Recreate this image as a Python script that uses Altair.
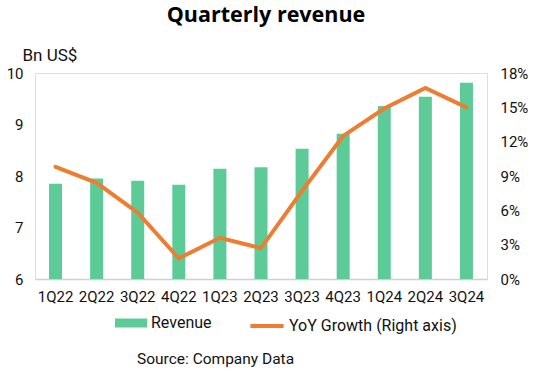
import altair as alt
import pandas as pd

quarters = ["1Q22", "2Q22", "3Q22", "4Q22", "1Q23", "2Q23", "3Q23", "4Q23", "1Q24", "2Q24", "3Q24"]
revenue = [7.85, 7.95, 7.91, 7.83, 8.14, 8.17, 8.53, 8.82, 9.36, 9.54, 9.81]
yoy_growth = [9.8, 8.4, 5.8, 1.8, 3.6, 2.7, 7.7, 12.5, 14.9, 16.7, 15.0]

df = pd.DataFrame({
    "quarter": quarters,
    "revenue": revenue,
    "yoy": [v / 100 for v in yoy_growth],
    "s_rev": "Revenue",
    "s_yoy": "YoY Growth (Right axis)",
})

FONT = "Roboto"
GREEN = "#5CCB97"
ORANGE = "#ED7D31"

x = alt.X("quarter:N", sort=quarters, title=None,
          scale=alt.Scale(paddingInner=0.68, paddingOuter=0.34),
          axis=alt.Axis(labelAngle=0, ticks=False, domainColor="#d0d0d0", domainWidth=1.5,
                        labelPadding=10, labelFontSize=15, labelColor="#111", labelFont=FONT))

bars = alt.Chart(df).mark_bar(size=13, color=GREEN, clip=True).encode(
    x=x,
    y=alt.Y("revenue:Q", scale=alt.Scale(domain=[6, 10], nice=False),
            axis=alt.Axis(values=[6, 7, 8, 9, 10], ticks=False, domain=False, grid=False,
                          labelPadding=12, labelFontSize=15, labelColor="#111", labelFont=FONT,
                          title="Bn US$", titleAngle=0, titleAlign="left", titleBaseline="middle",
                          titleX=-13, titleY=-18, titleFontSize=17, titleFontWeight="normal",
                          titleColor="#111", titleFont=FONT)),
    fill=alt.Fill("s_rev:N", scale=alt.Scale(domain=["Revenue"], range=[GREEN]),
                  legend=alt.Legend(orient="none", legendX=80, legendY=234, title=None,
                                    symbolType="M-1,-0.28H1V0.28H-1Z", symbolSize=1024,
                                    symbolStrokeWidth=0, labelFontSize=16, labelFont=FONT,
                                    labelColor="#111", labelOffset=4, labelLimit=300)),
)

line = alt.Chart(df).mark_line(color=ORANGE, strokeWidth=4, strokeCap="round").encode(
    x=x,
    y=alt.Y("yoy:Q", scale=alt.Scale(domain=[0, 0.18], nice=False),
            axis=alt.Axis(orient="right", values=[0, 0.03, 0.06, 0.09, 0.12, 0.15, 0.18],
                          format=".0%", ticks=False, domain=False, grid=False,
                          labelPadding=13, labelFontSize=15, labelColor="#111", labelFont=FONT,
                          title=None)),
    stroke=alt.Stroke("s_yoy:N", scale=alt.Scale(domain=["YoY Growth (Right axis)"], range=[ORANGE]),
                      legend=alt.Legend(orient="none", legendX=213, legendY=234, title=None,
                                        symbolType="stroke", symbolSize=1100, symbolStrokeWidth=4,
                                        labelFontSize=16, labelFont=FONT, labelColor="#111",
                                        labelOffset=3, labelLimit=300)),
)

source = alt.Chart(pd.DataFrame({"t": ["Source: Company Data"]})).mark_text(
    font=FONT, fontSize=15.5, color="#111", align="left", baseline="middle"
).encode(text="t:N", x=alt.value(102), y=alt.value(286))

title = alt.Chart(pd.DataFrame({"t": ["Quarterly revenue"]})).mark_text(
    font="Open Sans", fontSize=21.5, fontWeight="bold", color="#000",
    align="center", baseline="middle"
).encode(text="t:N", x=alt.value(231), y=alt.value(-57))

chart = alt.layer(bars, line, source, title).resolve_scale(
    y="independent", fill="independent", stroke="independent"
).properties(
    width=452, height=206,
    padding={"left": 35, "top": 73, "right": 54, "bottom": 98},
    autosize=alt.AutoSizeParams(type="none"),
).configure_view(stroke=None).configure(background="white")

chart.save("out.html", embed_options={"renderer": "svg", "actions": False})
